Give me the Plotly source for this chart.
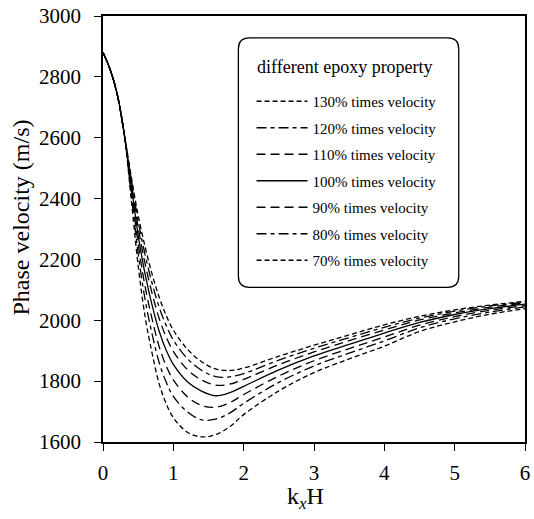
import plotly.graph_objects as go

# kxH sample points
kxH = [0, 0.1, 0.2, 0.3, 0.4, 0.5, 0.6, 0.7, 0.8, 0.9, 1.0, 1.2, 1.4, 1.6,
       1.8, 2.0, 2.5, 3.0, 3.5, 4.0, 4.5, 5.0, 5.5, 6.0]

# Phase velocity (m/s) for each epoxy property case
v130 = [2880, 2825, 2745, 2615, 2475, 2345, 2240, 2150, 2075, 2015, 1968, 1905, 1864, 1840,
        1835, 1843, 1882, 1918, 1952, 1985, 2013, 2034, 2050, 2062]
v120 = [2880, 2825, 2745, 2615, 2466, 2326, 2214, 2120, 2042, 1982, 1935, 1874, 1836, 1815,
        1814, 1825, 1869, 1908, 1943, 1977, 2007, 2030, 2047, 2059]
v110 = [2880, 2825, 2745, 2615, 2457, 2305, 2184, 2087, 2005, 1944, 1898, 1838, 1804, 1787,
        1790, 1806, 1854, 1896, 1933, 1968, 2001, 2024, 2043, 2056]
v100 = [2880, 2825, 2745, 2615, 2446, 2280, 2150, 2048, 1963, 1901, 1855, 1798, 1767, 1752,
        1762, 1783, 1837, 1883, 1921, 1958, 1993, 2019, 2038, 2053]
v90 = [2880, 2825, 2745, 2615, 2432, 2251, 2109, 2002, 1912, 1849, 1804, 1749, 1720, 1714,
       1729, 1756, 1817, 1867, 1907, 1945, 1984, 2012, 2033, 2048]
v80 = [2880, 2825, 2745, 2615, 2418, 2220, 2066, 1953, 1860, 1796, 1750, 1699, 1673, 1675,
       1695, 1727, 1796, 1850, 1892, 1932, 1975, 2005, 2027, 2044]
v70 = [2880, 2825, 2745, 2615, 2400, 2180, 2010, 1890, 1790, 1725, 1680, 1632, 1617, 1624,
       1650, 1690, 1768, 1828, 1873, 1915, 1963, 1995, 2020, 2038]

series_names = ["130% times velocity", "120% times velocity", "110% times velocity",
                "100% times velocity", "90% times velocity", "80% times velocity",
                "70% times velocity"]
series_values = [v130, v120, v110, v100, v90, v80, v70]
dashes = ["5px,3px", "10px,4px,4px,4px", "9px,5px", "solid",
          "9px,5px", "10px,4px,4px,4px", "5px,3px"]

legend_title = "different epoxy property"
x_ticks = [0, 1, 2, 3, 4, 5, 6]
y_ticks = [1600, 1800, 2000, 2200, 2400, 2600, 2800, 3000]

SERIF = "Liberation Serif"

fig = go.Figure()
for i, (name, vals, dash) in enumerate(zip(series_names, series_values, dashes)):
    fig.add_trace(go.Scatter(
        x=kxH, y=vals, mode="lines", name=name, legendgroup=f"g{i}",
        line=dict(color="black", width=1.3, dash=dash, shape="spline", smoothing=1.0),
    ))

# rounded legend frame (paper coordinates)
L, R, T, B, r = 0.3208, 0.8430, 0.9485, 0.3630, 0.026
frame = (f"M {L+r},{T} L {R-r},{T} Q {R},{T} {R},{T-r} L {R},{B+r} Q {R},{B} {R-r},{B} "
         f"L {L+r},{B} Q {L},{B} {L},{B+r} L {L},{T-r} Q {L},{T} {L+r},{T} Z")

fig.update_layout(
    width=534, height=519,
    margin=dict(l=103, r=4, t=15, b=77),
    paper_bgcolor="white", plot_bgcolor="white",
    font=dict(family=SERIF, color="black"),
    showlegend=True,
    legend=dict(
        x=0.352, y=0.838, xanchor="left", yanchor="top",
        bgcolor="rgba(0,0,0,0)", borderwidth=0,
        font=dict(family=SERIF, size=15, color="black"),
        itemwidth=51, tracegroupgap=4,
    ),
    shapes=[dict(type="path", path=frame, xref="paper", yref="paper",
                 line=dict(color="black", width=1.3), layer="above")],
    xaxis=dict(
        range=[0, 6], tickvals=x_ticks, ticktext=[str(t) for t in x_ticks],
        ticks="outside", ticklen=7, tickwidth=1.3, tickcolor="black",
        showline=True, mirror=True, linecolor="black", linewidth=1.5,
        showgrid=False, zeroline=False, ticklabelstandoff=4,
        tickfont=dict(family=SERIF, size=21, color="black"),
    ),
    yaxis=dict(
        range=[1600, 3000], tickvals=y_ticks, ticktext=[str(t) for t in y_ticks],
        ticks="outside", ticklen=7, tickwidth=1.3, tickcolor="black",
        showline=True, mirror=True, linecolor="black", linewidth=1.5,
        showgrid=False, zeroline=False, ticklabelstandoff=9,
        tickfont=dict(family=SERIF, size=21, color="black"),
    ),
    annotations=[
        dict(text=legend_title, xref="paper", yref="paper",
             x=0.574, y=0.881, showarrow=False, xanchor="center", yanchor="middle",
             font=dict(family=SERIF, size=18, color="black")),
        dict(text="Phase velocity (m/s)", xref="paper", yref="paper",
             x=-0.192, y=0.527, textangle=-90, showarrow=False,
             xanchor="center", yanchor="middle",
             font=dict(family=SERIF, size=24, color="black")),
        dict(text="k<sub><i>x</i></sub>H", xref="paper", yref="paper",
             x=0.48, y=-0.131, showarrow=False, xanchor="center", yanchor="middle",
             font=dict(family=SERIF, size=24, color="black")),
    ],
)

fig.write_html("out.html", config={"displayModeBar": False},
               post_script="document.body.style.margin='0';")
